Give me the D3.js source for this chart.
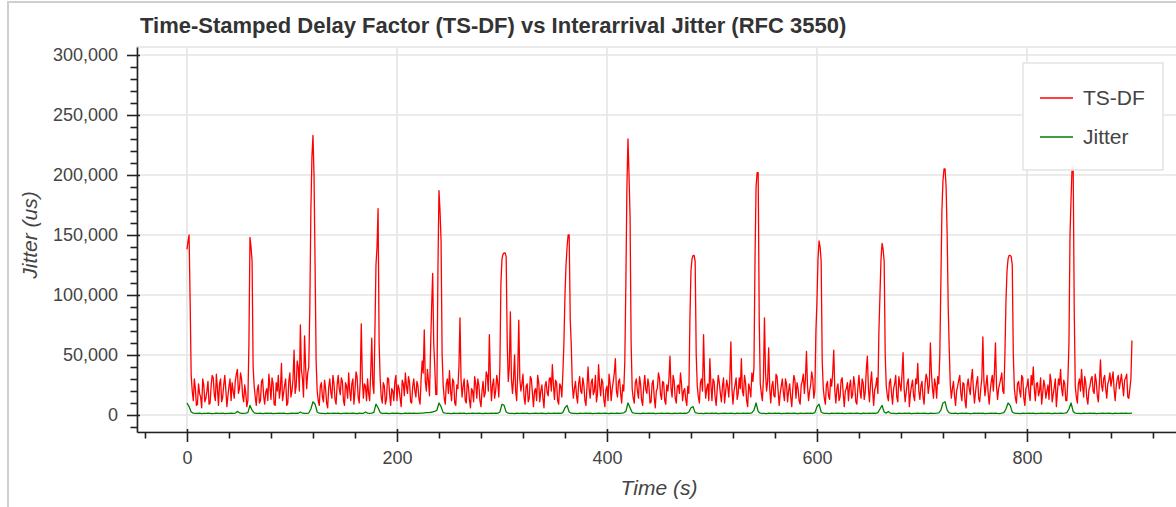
<!DOCTYPE html>
<html>
<head>
<meta charset="utf-8">
<script src="https://cdn.jsdelivr.net/npm/d3@7"></script>
<style>
  body { margin: 0; background: #fff; }
  text { font-family: "Liberation Sans", Arial, Helvetica, sans-serif; }
</style>
</head>
<body>
<div id="chart"></div>
<script>
// ---- data ----
// TS-DF sampled every second, jitter every 2 seconds
const tsdfStep = 1;
const jitterStep = 2;

const tsdf = [
  138000,145000,150000,95000,33000,20000,12000,30000,22000,8000,9000,26000,18000,15000,6000,30000,25000,11000,14000,20000,28000,9000,10000,24000,33000,31000,17000,12000,34000,22000,8000,26000,30000,11000,15000,25000,33000,21000,7000,16000,24000,30000,12000,27000,20000,14000,28000,34000,38000,18000,22000,35000,30000,16000,11000,25000,18000,7000,12000,60000,
  148000,140000,128000,40000,24000,15000,8000,21000,25000,10000,12000,28000,30000,16000,9000,19000,22000,12000,34000,24000,13000,31000,26000,9000,8000,27000,20000,33000,14000,22000,43000,12000,18000,25000,30000,8000,10000,28000,35000,15000,20000,30000,54000,18000,24000,45000,40000,20000,75000,38000,30000,15000,66000,40000,22000,35000,40000,90000,170000,215000,
  233000,200000,125000,45000,20000,12000,8000,24000,27000,15000,11000,29000,22000,10000,6000,23000,30000,19000,14000,33000,26000,13000,9000,25000,33000,22000,17000,31000,28000,12000,8000,27000,24000,14000,35000,20000,12000,26000,30000,9000,20000,36000,32000,15000,10000,28000,76000,30000,14000,26000,24000,12000,30000,18000,12000,35000,64000,25000,18000,70000,
  125000,140000,172000,60000,30000,15000,10000,27000,24000,9000,13000,31000,30000,17000,8000,22000,20000,12000,28000,33000,12000,25000,22000,14000,7000,29000,26000,16000,35000,24000,18000,32000,27000,11000,10000,24000,30000,20000,15000,28000,24000,13000,9000,30000,45000,35000,71000,28000,20000,38000,28000,16000,55000,90000,118000,60000,40000,17000,17000,120000,
  187000,170000,145000,50000,25000,14000,9000,26000,30000,18000,37000,20000,12000,30000,28000,10000,8000,25000,22000,40000,81000,30000,15000,24000,30000,12000,10000,29000,24000,13000,6000,22000,20000,11000,32000,26000,14000,30000,25000,12000,7000,20000,28000,15000,18000,36000,33000,20000,67000,30000,12000,25000,30000,14000,20000,33000,27000,15000,40000,110000,
  130000,134000,135000,135000,132000,60000,28000,40000,86000,30000,18000,30000,50000,20000,12000,35000,79000,30000,20000,26000,34000,15000,9000,24000,26000,11000,14000,32000,30000,18000,7000,20000,22000,12000,33000,27000,11000,20000,25000,14000,6000,24000,28000,19000,16000,30000,31000,20000,42000,25000,13000,29000,27000,12000,9000,26000,24000,15000,35000,60000,
  100000,125000,140000,150000,150000,80000,58000,25000,14000,22000,28000,16000,10000,26000,32000,20000,18000,31000,25000,12000,8000,24000,40000,22000,14000,27000,30000,17000,20000,33000,11000,18000,42000,25000,16000,30000,27000,13000,7000,21000,24000,12000,34000,26000,12000,22000,28000,35000,47000,20000,15000,28000,30000,18000,10000,25000,20000,45000,110000,190000,
  230000,200000,165000,60000,22000,14000,10000,27000,30000,20000,14000,32000,26000,12000,8000,24000,33000,21000,18000,30000,24000,10000,11000,26000,29000,15000,6000,20000,22000,35000,31000,17000,13000,28000,27000,12000,9000,25000,20000,30000,49000,22000,15000,33000,28000,14000,10000,24000,25000,18000,35000,26000,12000,20000,22000,13000,8000,24000,18000,80000,
  120000,130000,133000,133000,128000,50000,24000,15000,10000,27000,30000,20000,67000,30000,14000,22000,26000,12000,47000,25000,12000,30000,28000,15000,8000,22000,33000,27000,18000,11000,24000,31000,10000,19000,29000,24000,15000,30000,61000,22000,9000,20000,25000,31000,13000,18000,31000,22000,47000,20000,16000,33000,27000,12000,7000,26000,22000,15000,35000,28000,
  40000,130000,190000,202000,202000,80000,26000,18000,12000,30000,81000,35000,20000,28000,56000,22000,10000,24000,28000,16000,15000,34000,32000,20000,8000,18000,24000,30000,19000,12000,30000,26000,11000,20000,26000,15000,7000,22000,33000,29000,14000,27000,22000,12000,9000,25000,28000,34000,18000,30000,53000,24000,12000,20000,25000,36000,30000,14000,20000,70000,
  95000,130000,145000,140000,128000,45000,22000,14000,9000,25000,28000,16000,13000,30000,24000,35000,54000,20000,10000,22000,26000,12000,15000,29000,31000,18000,7000,20000,22000,27000,12000,24000,29000,14000,17000,32000,25000,11000,9000,23000,33000,20000,14000,30000,27000,13000,19000,38000,49000,22000,11000,26000,36000,20000,8000,21000,24000,31000,18000,70000,
  100000,130000,143000,138000,128000,50000,24000,16000,12000,27000,30000,18000,9000,22000,26000,33000,15000,11000,32000,25000,20000,34000,52000,22000,11000,19000,27000,30000,7000,18000,24000,29000,16000,12000,30000,26000,43000,20000,13000,24000,28000,15000,9000,26000,34000,30000,18000,25000,60000,35000,22000,14000,30000,25000,14000,32000,26000,50000,110000,170000,
  195000,205000,205000,190000,150000,90000,54000,25000,14000,22000,28000,16000,8000,20000,24000,29000,33000,18000,12000,27000,26000,12000,6000,24000,30000,22000,17000,30000,38000,21000,10000,19000,27000,32000,14000,11000,22000,30000,65000,28000,16000,25000,33000,19000,9000,20000,28000,33000,20000,35000,60000,24000,13000,22000,26000,30000,35000,20000,18000,50000,
  95000,120000,130000,133000,133000,132000,125000,50000,22000,14000,10000,26000,28000,20000,15000,33000,31000,14000,8000,22000,24000,30000,18000,12000,33000,25000,40000,22000,12000,26000,27000,16000,20000,31000,9000,18000,29000,24000,14000,20000,25000,13000,34000,28000,11000,17000,23000,30000,7000,19000,30000,25000,38000,22000,16000,29000,26000,12000,12000,30000,
  60000,150000,180000,208000,208000,90000,24000,15000,10000,26000,30000,20000,38000,24000,15000,32000,27000,14000,9000,21000,24000,30000,32000,20000,18000,34000,28000,16000,11000,27000,46000,25000,20000,30000,33000,22000,14000,26000,29000,35000,24000,30000,36000,21000,12000,24000,30000,33000,22000,28000,34000,25000,16000,29000,31000,34000,15000,14000,22000,30000,
  62000
];

const jitter = [
  10000,7000,2500,1600,1400,1300,1500,1200,1400,1300,1500,1400,1200,1300,1600,1400,1300,1500,1200,1400,1300,1500,1400,1600,3000,1800,1400,1300,1500,2000,
  8000,4000,1800,1400,1300,1500,1200,1400,1600,1300,1500,1200,1400,1300,1500,1400,1600,1300,1200,1400,1500,1300,1600,1400,2500,1500,1300,1400,1600,5000,
  11000,9000,2500,1500,1300,1400,1200,1500,1300,1400,1600,1300,1500,1200,1400,1300,1500,1400,1300,1600,1400,1200,1500,1300,1400,2500,1600,1400,1500,2200,
  9000,6000,2000,1400,1300,1500,1200,1400,1600,1300,1500,1400,1200,1300,1500,1400,1600,1300,1500,1400,1300,1500,1600,1800,2000,1900,2200,2500,3000,4000,
  10000,7000,2000,1500,1300,1400,1200,1500,1300,1400,1600,1300,1500,1200,1400,1300,1500,1400,1300,1600,1400,1200,1500,1300,1400,1500,1300,1600,1400,2500,
  9000,8000,2500,1500,1300,1400,1200,1500,1300,1400,1600,1300,1500,1200,1400,1300,1500,1400,1300,1600,1400,1200,1500,1300,1400,1500,1300,1600,1400,2000,
  6000,8000,2500,1500,1300,1400,1200,1500,1300,1400,1600,1300,1500,1200,1400,1300,1500,1400,1300,1600,1400,1200,1500,1300,1400,1500,1300,1600,1800,3000,
  10000,6000,2000,1500,1300,1400,1200,1500,1300,1400,1600,1300,1500,1200,1400,1300,1500,1400,1300,1600,1400,1200,1500,1300,1400,1500,1300,1600,1400,2500,
  6000,7000,2000,1500,1300,1400,1200,1500,1300,1400,1600,1300,1500,1200,1400,1300,1500,1400,1300,1600,1400,1200,1500,1300,1400,1500,1300,1600,1400,1800,
  4000,10000,3000,1500,1300,1400,1200,1500,1300,1400,1600,1300,1500,1200,1400,1300,1500,1400,1300,1600,1400,1200,1500,1300,1400,1500,1300,1600,1400,2000,
  7000,9000,2500,1500,1300,1400,1200,1500,1300,1400,1600,1300,1500,1200,1400,1300,1500,1400,1300,1600,1400,1200,1500,1300,1400,1500,1300,1600,1400,2000,
  5000,8000,2500,1600,3000,1500,1300,1400,1200,1500,1300,1400,1600,1300,1500,1200,1400,1300,1500,1400,1300,1600,1400,1200,1500,1300,1400,1500,1800,4000,
  10000,11000,4000,1800,1400,1300,1500,1200,1400,1600,1300,1500,1400,1200,1300,1500,1400,1600,1300,1500,1200,1400,1300,1500,1400,1600,1300,1200,1500,2000,
  5000,10000,8000,2500,1500,1300,1400,1200,1500,1300,1400,1600,1300,1500,1200,1400,1300,1500,1400,1300,1600,1400,1200,1500,1300,1400,1500,1300,1600,2000,
  5000,10000,3000,1500,1300,1400,1200,1500,1300,1400,1600,1300,1500,1200,1400,1300,1500,1400,1300,1600,1400,1200,1500,1300,1400,1500,1300,1600,1400,1300,
  1500
];

const seriesNames = ["TS-DF", "Jitter"];
const yMajorTicks = [0, 50000, 100000, 150000, 200000, 250000, 300000];
const xMajorTicks = [0, 200, 400, 600, 800];

// ---- layout ----
const width = 1176, height = 507;
const frame = { left: 137, right: 1179, top: 47, bottom: 432 };
const colors = ["red", "green"];

const series = [[tsdf, tsdfStep], [jitter, jitterStep]].map(([vals, step], k) => ({
  name: seriesNames[k],
  color: colors[k],
  values: vals.map((v, i) => ({ t: i * step, v: v }))
}));

const svg = d3.select("#chart").append("svg")
  .attr("width", width)
  .attr("height", height);

svg.append("rect").attr("width", width).attr("height", height).attr("fill", "#fff");

// outer cell border
svg.append("rect")
  .attr("x", 8).attr("y", 2)
  .attr("width", 1200).attr("height", 600)
  .attr("fill", "none")
  .attr("stroke", "#cfcfcf")
  .attr("stroke-width", 2);

// scales
const xScale = d3.scaleLinear().domain([-47.6, 944.8]).range([frame.left, frame.right]);
const yScale = d3.scaleLinear().domain([-14170, 306670]).range([frame.bottom, frame.top]);

// grid
const grid = svg.append("g").attr("stroke", "#e5e5e5").attr("stroke-width", 1.6);
grid.selectAll(".hgrid").data(yMajorTicks).join("line")
  .attr("x1", frame.left).attr("x2", frame.right)
  .attr("y1", d => yScale(d)).attr("y2", d => yScale(d));
grid.selectAll(".vgrid").data(xMajorTicks).join("line")
  .attr("x1", d => xScale(d)).attr("x2", d => xScale(d))
  .attr("y1", frame.top).attr("y2", frame.bottom);
grid.append("rect")
  .attr("x", frame.left).attr("y", frame.top)
  .attr("width", frame.right - frame.left).attr("height", frame.bottom - frame.top)
  .attr("fill", "none");

// lines
svg.append("clipPath").attr("id", "clip").append("rect")
  .attr("x", frame.left).attr("y", frame.top)
  .attr("width", frame.right - frame.left).attr("height", frame.bottom - frame.top);

const line = d3.line().x(d => xScale(d.t)).y(d => yScale(d.v));
svg.append("g").attr("clip-path", "url(#clip)")
  .selectAll("path").data(series).join("path")
  .attr("d", d => line(d.values))
  .attr("fill", "none")
  .attr("stroke", d => d.color)
  .attr("stroke-width", 1.3)
  .attr("stroke-linejoin", "round");

// axes
const yMinorTicks = d3.range(-10000, 306000, 10000).filter(d => d % 50000 !== 0);
const xMinorTicks = d3.range(-40, 944, 40).filter(d => d % 200 !== 0);

const yAxis = d3.axisLeft(yScale).tickValues(yMajorTicks).tickSize(10).tickPadding(9)
  .tickSizeOuter(0).tickFormat(d3.format(","));
const yAxisG = svg.append("g").attr("transform", `translate(${frame.left},0)`)
  .attr("color", "#222").call(yAxis);
yAxisG.selectAll(".tick line").attr("x1", 3);

const yMinorG = svg.append("g").attr("transform", `translate(${frame.left},0)`)
  .attr("color", "#222").call(d3.axisLeft(yScale).tickValues(yMinorTicks).tickSize(6.5).tickFormat(""));
yMinorG.select(".domain").remove();

const xAxis = d3.axisBottom(xScale).tickValues(xMajorTicks).tickSize(10).tickPadding(9)
  .tickSizeOuter(0);
const xAxisG = svg.append("g").attr("transform", `translate(0,${frame.bottom})`)
  .attr("color", "#222").call(xAxis);
xAxisG.selectAll(".tick line").attr("y1", -3);

const xMinorG = svg.append("g").attr("transform", `translate(0,${frame.bottom})`)
  .attr("color", "#222").call(d3.axisBottom(xScale).tickValues(xMinorTicks).tickSize(6.5).tickFormat(""));
xMinorG.select(".domain").remove();

svg.selectAll(".domain, .tick line").attr("stroke-width", 1.6);
[yAxisG, xAxisG].forEach(g => g.selectAll(".tick text")
  .attr("fill", "#444")
  .style("font-size", "18px")
  .style("font-family", '"Liberation Sans", Arial, sans-serif'));

// title and axis labels
svg.append("text")
  .attr("x", 140).attr("y", 33)
  .attr("fill", "#333")
  .style("font-size", "22px")
  .style("font-weight", "bold")
  .text("Time-Stamped Delay Factor (TS-DF) vs Interarrival Jitter (RFC 3550)");

svg.append("text")
  .attr("transform", "translate(37,235) rotate(-90)")
  .attr("text-anchor", "middle")
  .attr("fill", "#444")
  .style("font-size", "21px")
  .style("font-style", "italic")
  .text("Jitter (us)");

svg.append("text")
  .attr("x", 659).attr("y", 495)
  .attr("text-anchor", "middle")
  .attr("fill", "#444")
  .style("font-size", "21px")
  .style("font-style", "italic")
  .text("Time (s)");

// legend
const legend = svg.append("g");
legend.append("rect")
  .attr("x", 1023).attr("y", 63)
  .attr("width", 140).attr("height", 107)
  .attr("fill", "#fff").attr("fill-opacity", 0.95)
  .attr("stroke", "#e5e5e5").attr("stroke-width", 1.6);
const items = legend.selectAll(".item").data(series).join("g")
  .attr("transform", (d, i) => `translate(1040,${98 + i * 39})`);
items.append("line")
  .attr("x1", 0).attr("x2", 33)
  .attr("stroke", d => d.color).attr("stroke-width", 1.6);
items.append("text")
  .attr("x", 43).attr("dy", "0.35em")
  .attr("fill", "#444")
  .style("font-size", "21px")
  .text(d => d.name);
</script>
</body>
</html>
